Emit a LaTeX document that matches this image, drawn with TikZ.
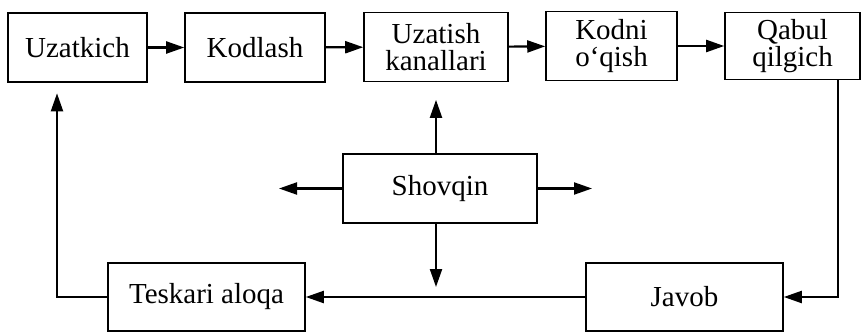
\documentclass[tikz,border=0pt]{standalone}
\usepackage{fontspec}
\setmainfont{Liberation Serif}
\usetikzlibrary{arrows.meta}

\tikzset{
  blok/.style={draw, line width=0.9pt, align=center, inner sep=0pt,
    font=\fontsize{16.5}{17.5}\selectfont},
  oq/.style={-{Triangle[length=0.36cm,width=0.24cm]}, line width=1.2pt},
}

\begin{document}
\begin{tikzpicture}[x=0.02cm, y=-0.02cm]
  \useasboundingbox (0,0) rectangle (861,331);
  % yuqori qator
  \node[blok, minimum width=2.78cm, minimum height=1.38cm] (uzat) at (77.5,47.5) {Uzatkich};
  \node[blok, minimum width=2.8cm, minimum height=1.38cm] (kod) at (255,47.5) {Kodlash};
  \node[blok, minimum width=2.88cm, minimum height=1.38cm] (kanal) at (436,47) {Uzatish\\[-2pt]kanallari};
  \node[blok, minimum width=2.62cm, minimum height=1.38cm] (oqish) at (611.5,46) {Kodni\\[-2pt]o‘qish};
  \node[blok, minimum width=2.7cm, minimum height=1.34cm] (qabul) at (792.5,46) {Qabul\\[-2pt]qilgich};
  % shovqin
  \node[blok, minimum width=3.88cm, minimum height=1.38cm] (shov) at (440,188.5) {Shovqin};
  % pastki qator
  \node[blok, minimum width=3.94cm, minimum height=1.36cm] (tesk) at (206.5,297) {Teskari aloqa};
  \node[blok, minimum width=3.94cm, minimum height=1.36cm] (javob) at (684.5,297) {Javob};
  \coordinate (chap) at (279,188.5);
  \coordinate (ong) at (592,188.5);
  \coordinate (past) at (436,287);

  \draw[oq] (uzat) -- (kod);
  \draw[oq] (kod) -- (kanal);
  \draw[oq] (kanal) -- (oqish);
  \draw[oq] (oqish) -- (qabul);

  \draw[oq, shorten >=10pt] (shov.north -| kanal) -- (kanal.south);
  \draw[oq] (shov.south -| kanal) -- (past);
  \draw[oq] (shov.west) -- (chap);
  \draw[oq] (shov.east) -- (ong);

  \draw[oq] (javob) -- (tesk);
  \draw[oq] (qabul.south -| 838,0) |- (javob.east);
  \draw[oq, shorten >=6pt] (tesk.west) -| (uzat.south -| 57,0);
\end{tikzpicture}
\end{document}
